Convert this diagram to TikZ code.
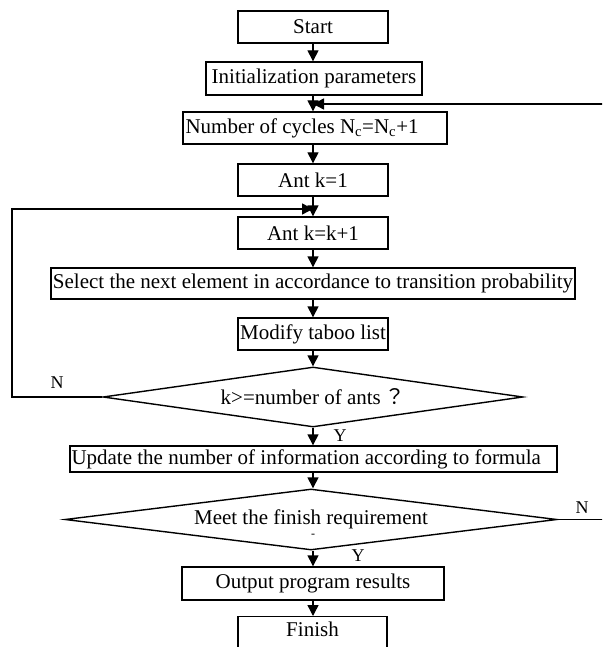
\documentclass[tikz,border=0pt]{standalone}
\usepackage{fontspec}
\setmainfont{Liberation Serif}
\newfontfamily\cjkfont{Noto Sans CJK TC}
\usetikzlibrary{shapes.geometric,arrows.meta}
\begin{document}
\begin{tikzpicture}[x=1pt,y=-1pt,
 every node/.style={font=\fontsize{21}{25}\selectfont},
 box/.style={draw, line width=1.4pt, rectangle, inner sep=0pt, minimum height=32pt},
 dia/.style={draw, line width=1.4pt, diamond, inner sep=0pt},
 conn/.style={line width=1.4pt, -{Triangle[length=11pt,width=11pt]}},
 lbl/.style={inner sep=0pt, font=\fontsize{18}{21}\selectfont}]
\clip (0,0) rectangle (602,647);
\fill[white] (0,0) rectangle (602,647);

\node[box, minimum width=150pt, minimum height=32pt] (start) at (313,27) {Start};
\node[box, minimum width=216pt, minimum height=33pt] (init) at (314,78.5) {Initialization parameters};
\node[box, minimum width=264pt, minimum height=32pt] (cyc) at (315,128) {};
\node[anchor=west, inner sep=0pt] (cyct) at ([xshift=3pt]cyc.west) {Number of cycles N\textsubscript{c}=N\textsubscript{c}+1};
\node[box, minimum width=150pt, minimum height=32pt] (ant1) at (313,180) {Ant k=1};
\node[box, minimum width=150pt, minimum height=32pt] (ant2) at (313,233) {Ant k=k+1};
\node[box, minimum width=524pt, minimum height=31pt] (sel) at (313,283.5) {Select the next element in accordance to transition probability};
\node[box, minimum width=150pt, minimum height=32pt] (mod) at (313,334) {Modify taboo list};
\node[dia, minimum width=420pt, minimum height=60pt, shape aspect=7] (d1) at (313,397) {k>=number of ants\,{\cjkfont ？}};
\node[box, minimum width=487pt, minimum height=26pt] (upd) at (313.5,459) {};
\node[anchor=west, inner sep=0pt] (updt) at ([xshift=2pt]upd.west) {Update the number of information according to formula};
\node[dia, minimum width=492pt, minimum height=61pt, shape aspect=8] (d2) at (311,519.5) {Meet the finish requirement};
\node[box, minimum width=262pt, minimum height=33pt] (out) at (313,583.5) {Output program results};
\node[box, anchor=north, minimum width=149pt, inner ysep=5pt, text height=15pt, text depth=40pt] (fin) at (312.5,616) {Finish};

\coordinate (j1) at (313,209);
\coordinate (j2) at (313,104);

\draw[conn] (start.south) -- (start.south |- init.north);
\draw[conn] (start.south |- init.south) -- (start.south |- cyc.north);
\draw[conn] (start.south |- cyc.south) -- (ant1.north);
\draw[conn] (ant1.south) -- (ant2.north);
\draw[conn] (ant2.south) -- (sel.north -| ant2.south);
\draw[conn] (sel.south -| mod.north) -- (mod.north);
\draw[conn] (mod.south) -- (mod.south |- d1.north);
\draw[conn] (mod.south |- d1.south) -- (mod.south |- upd.north);
\draw[conn] (mod.south |- upd.south) -- (mod.south |- d2.north);
\draw[conn] (mod.south |- d2.south) -- (mod.south |- out.north);
\draw[conn] (mod.south |- out.south) -- (mod.south |- fin.north);

\draw[conn] (d1.west) -| (12,209) -- (j1);
\draw[conn] (d2.east) -- (612,519.5) |- (j2);

\node[lbl] (nl) at (57,383) {N};
\node[lbl] (yl) at (340,436) {Y};
\node[lbl] (nr) at (582,508) {N};
\node[lbl] (yb) at (358,556) {Y};
\node[lbl, font=\fontsize{12}{14}\selectfont, text height=2pt, text depth=0pt] (dash) at (313,536) {-};
\end{tikzpicture}
\end{document}
